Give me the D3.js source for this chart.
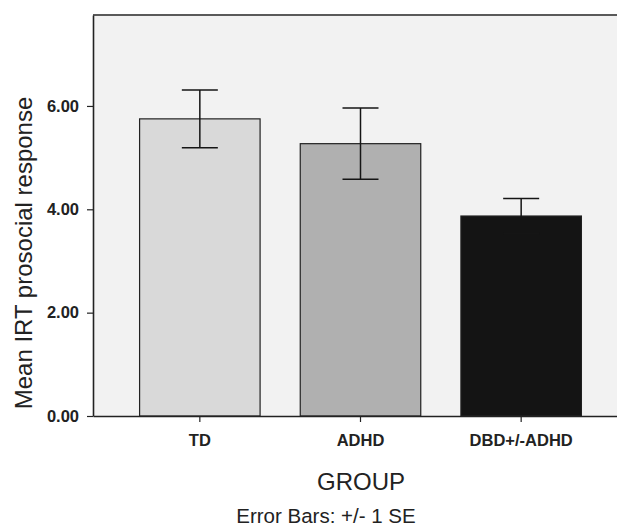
<!DOCTYPE html>
<html>
<head>
<meta charset="utf-8">
<script src="https://cdn.jsdelivr.net/npm/d3@7"></script>
<style>
  body { margin: 0; background: #fff; }
  svg { display: block; font-family: "Liberation Sans", Arial, sans-serif; }
</style>
</head>
<body>
<div id="chart"></div>
<script>
// data
var groups = ["TD", "ADHD", "DBD+/-ADHD"];
var means = [5.75, 5.27, 3.87];
var se = [0.56, 0.69, 0.34];
var barColors = ["#d9d9d9", "#b0b0b0", "#141414"];
var yTicks = [0, 2, 4, 6];

var w = 617, h = 526;
var plotLeft = 93, plotTop = 15, plotBottom = 416, plotRight = 628;

var svg = d3.select("#chart").append("svg")
  .attr("width", w)
  .attr("height", h);

var x = d3.scaleBand()
  .domain(groups)
  .range([plotLeft, plotRight])
  .paddingInner(0.25)
  .paddingOuter(0.29);

var y = d3.scaleLinear()
  .domain([0, 7.76])
  .range([plotBottom, plotTop]);

// plot background
svg.append("rect")
  .attr("x", plotLeft).attr("y", plotTop)
  .attr("width", plotRight - plotLeft).attr("height", plotBottom - plotTop)
  .attr("fill", "#f2f2f2");

// top border
svg.append("line")
  .attr("x1", plotLeft).attr("x2", plotRight)
  .attr("y1", plotTop).attr("y2", plotTop)
  .attr("stroke", "#5a5a5a").attr("stroke-width", 2);

// bars
svg.selectAll("rect.bar")
  .data(means)
  .enter()
  .append("rect")
  .attr("class", "bar")
  .attr("x", function(d, i) { return x(groups[i]); })
  .attr("width", x.bandwidth())
  .attr("y", function(d) { return y(d); })
  .attr("height", function(d) { return y(0) - y(d); })
  .attr("fill", function(d, i) { return barColors[i]; })
  .attr("stroke", "#222")
  .attr("stroke-width", 1.2);

// error bars
var capHalf = 18;
var eb = svg.selectAll("g.err")
  .data(means)
  .enter()
  .append("g")
  .attr("class", "err")
  .attr("stroke", "#151515")
  .attr("stroke-width", 1.5);

eb.append("line")
  .attr("x1", function(d, i) { return x(groups[i]) + x.bandwidth() / 2; })
  .attr("x2", function(d, i) { return x(groups[i]) + x.bandwidth() / 2; })
  .attr("y1", function(d, i) { return y(d + se[i]); })
  .attr("y2", function(d, i) { return y(d - se[i]); });

eb.append("line")
  .attr("x1", function(d, i) { return x(groups[i]) + x.bandwidth() / 2 - capHalf; })
  .attr("x2", function(d, i) { return x(groups[i]) + x.bandwidth() / 2 + capHalf; })
  .attr("y1", function(d, i) { return y(d + se[i]); })
  .attr("y2", function(d, i) { return y(d + se[i]); });

eb.append("line")
  .attr("x1", function(d, i) { return x(groups[i]) + x.bandwidth() / 2 - capHalf; })
  .attr("x2", function(d, i) { return x(groups[i]) + x.bandwidth() / 2 + capHalf; })
  .attr("y1", function(d, i) { return y(d - se[i]); })
  .attr("y2", function(d, i) { return y(d - se[i]); });

// axes
var yAxis = svg.append("g")
  .attr("transform", "translate(" + plotLeft + ",0)")
  .call(d3.axisLeft(y).tickValues(yTicks).tickFormat(d3.format(".2f")).tickSize(6).tickSizeOuter(0).tickPadding(8));

var xAxis = svg.append("g")
  .attr("transform", "translate(0," + plotBottom + ")")
  .call(d3.axisBottom(x).tickSize(6).tickSizeOuter(0).tickPadding(12));

[yAxis, xAxis].forEach(function(a) {
  a.select(".domain").attr("stroke", "#222").attr("stroke-width", 1.6);
  a.selectAll(".tick line").attr("stroke", "#222").attr("stroke-width", 1.2);
  a.selectAll(".tick text")
    .attr("fill", "#222")
    .style("font-family", "'Liberation Sans', Arial, sans-serif")
    .style("font-size", "16.5px")
    .style("font-weight", "bold");
});

// titles
svg.append("text")
  .attr("transform", "translate(32,253) rotate(-90)")
  .attr("text-anchor", "middle")
  .attr("fill", "#222")
  .style("font-size", "24px")
  .text("Mean IRT prosocial response");

svg.append("text")
  .attr("x", 361).attr("y", 490)
  .attr("text-anchor", "middle")
  .attr("fill", "#222")
  .style("font-size", "24px")
  .text("GROUP");

svg.append("text")
  .attr("x", 326).attr("y", 523)
  .attr("text-anchor", "middle")
  .attr("fill", "#222")
  .style("font-size", "20.5px")
  .text("Error Bars: +/- 1 SE");
</script>
</body>
</html>
